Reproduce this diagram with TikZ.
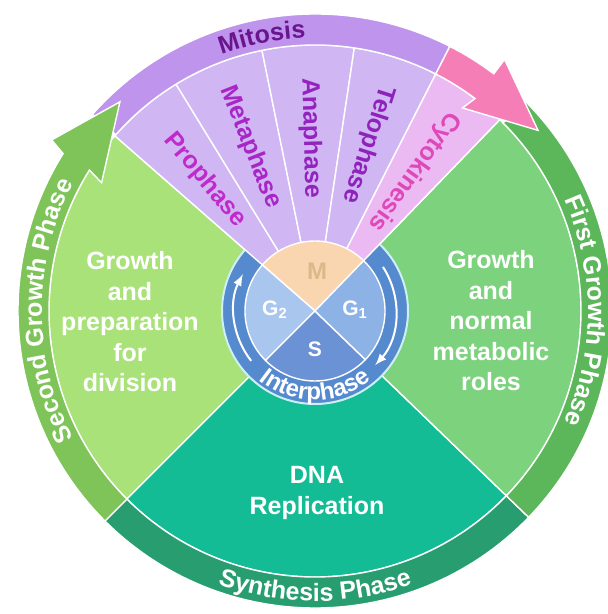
\documentclass[tikz,border=0pt]{standalone}
\usepackage{fontspec}
\setmainfont{Liberation Sans}
\usepackage{tikz}
\usetikzlibrary{decorations.text}
\usepackage{xcolor}

\definecolor{leftgreen}{HTML}{A8E278}
\definecolor{rightgreen}{HTML}{7CD27D}
\definecolor{dnateal}{HTML}{14BC96}
\definecolor{secondring}{HTML}{7EC458}
\definecolor{firstring}{HTML}{5CB65A}
\definecolor{synthring}{HTML}{289E70}
\definecolor{mitband}{HTML}{BE94EC}
\definecolor{pinkarrow}{HTML}{F67EB6}
\definecolor{fanlav}{HTML}{D0B6F2}
\definecolor{cytopink}{HTML}{ECBAF2}
\definecolor{mpeach}{HTML}{FAD6B0}
\definecolor{mtext}{HTML}{DDB88A}
\definecolor{gtwoblue}{HTML}{A8C6EE}
\definecolor{goneblue}{HTML}{8CB2E6}
\definecolor{sblue}{HTML}{6C92D6}
\definecolor{ringblue}{HTML}{568ACE}
\definecolor{ringline}{HTML}{CDEFF5}
\definecolor{procol}{HTML}{C02ACB}
\definecolor{metacol}{HTML}{A826C8}
\definecolor{anacol}{HTML}{9422BE}
\definecolor{telocol}{HTML}{8E22BA}
\definecolor{cytocol}{HTML}{DE48B8}
\definecolor{mitcol}{HTML}{6A148E}

\newcommand{\bandfont}{\fontsize{12.5}{15}\selectfont\bfseries}
\newcommand{\interfont}{\fontsize{12}{14}\selectfont\bfseries}

\begin{document}
\begin{tikzpicture}[x=0.5pt,y=0.5pt]
        %styles
        \tikzstyle{wedge}=[draw=white, line width=0.7pt]
        \tikzstyle{biglabel}=[align=center, text=white, font=\fontsize{12.5}{15.25}\selectfont\bfseries]
        \tikzstyle{stagelabel}=[font=\fontsize{12.5}{15}\selectfont\bfseries]
        \tikzstyle{phaselabel}=[text=white, font=\fontsize{10.5}{12}\selectfont\bfseries]
        \tikzstyle{ringarrow}=[->,>=latex, white, line width=1pt]

        %frame
        \fill[white] (-315,-303) rectangle (293,311);
        \useasboundingbox (-315,-303) rectangle (293,311);

        %big sectors
        \fill[leftgreen, wedge] (0,0) -- (138.8:266) arc[start angle=138.8, end angle=225, radius=266] -- cycle;
        \fill[dnateal, wedge] (0,0) -- (225:266) arc[start angle=225, end angle=316, radius=266] -- cycle;
        \fill[rightgreen, wedge] (0,0) -- (-44:266) arc[start angle=-44, end angle=46, radius=266] -- cycle;

        %interphase ring
        \fill[ringblue, draw=ringline, line width=1pt] (0,0) circle[radius=93];

        %mitosis fan
        \fill[fanlav, wedge] (0,0) -- (121.5:266) arc[start angle=121.5, end angle=138.8, radius=266] -- cycle;
        \fill[fanlav, wedge] (0,0) -- (101.5:266) arc[start angle=101.5, end angle=121.5, radius=266] -- cycle;
        \fill[fanlav, wedge] (0,0) -- (81.5:266) arc[start angle=81.5, end angle=101.5, radius=266] -- cycle;
        \fill[fanlav, wedge] (0,0) -- (63:266) arc[start angle=63, end angle=81.5, radius=266] -- cycle;
        \fill[cytopink, wedge] (0,0) -- (46:266) arc[start angle=46, end angle=63, radius=266] -- cycle;

        %outer rings
        \fill[synthring, wedge] (225:266) arc[start angle=225, end angle=316, radius=266] -- (316:297) arc[start angle=316, end angle=225, radius=297] -- cycle;
        \fill[firstring, wedge] (-44:266) arc[start angle=-44, end angle=45, radius=266] -- (45:297) arc[start angle=45, end angle=-44, radius=297] -- cycle;
        \fill[mitband, wedge] (63:266) arc[start angle=63, end angle=138.5, radius=266] -- (138.5:297) arc[start angle=138.5, end angle=63, radius=297] -- cycle;
        \fill[pinkarrow, wedge] (53:266) arc[start angle=53, end angle=63, radius=266] -- (63:297) arc[start angle=63, end angle=53, radius=297] -- (53:315) -- (39:287) -- (54:251) -- cycle;
        \fill[secondring, wedge] (225:266) arc[start angle=225, end angle=148, radius=266] -- (149:249) -- (133:286) -- (147:314) -- (148:297) arc[start angle=148, end angle=225, radius=297] -- cycle;

        %inner quadrants
        \fill[mpeach, wedge] (0,0) -- (46:70) arc[start angle=46, end angle=138.8, radius=70] -- cycle;
        \fill[gtwoblue, wedge] (0,0) -- (138.8:70) arc[start angle=138.8, end angle=225, radius=70] -- cycle;
        \fill[sblue, wedge] (0,0) -- (225:70) arc[start angle=225, end angle=316, radius=70] -- cycle;
        \fill[goneblue, wedge] (0,0) -- (-44:70) arc[start angle=-44, end angle=46, radius=70] -- cycle;

        %ring texts
        \path[decorate, decoration={text along path, text={|\bandfont|Mitosis}, text align=center, text color=mitcol}] (131:273) arc[start angle=131, end angle=71, radius=273];
        \path[decorate, decoration={text along path, text={|\bandfont|First Growth Phase}, text align=center, text color=white}] (40:273) arc[start angle=40, end angle=-40, radius=273];
        \path[decorate, decoration={text along path, text={|\bandfont|Second Growth Phase}, text align=center, text color=white}] (220:273) arc[start angle=220, end angle=140, radius=273];
        \path[decorate, decoration={text along path, text={|\bandfont|Synthesis Phase}, text align=center, text color=white}] (-125:290) arc[start angle=-125, end angle=-55, radius=290];
        \path[decorate, decoration={text along path, text={|\interfont|Interphase}, text align=center, text color=white}] (-140:89) arc[start angle=-140, end angle=-40, radius=89];

        %nodes
        \node[biglabel] (prep) at (-185,-11) {Growth\\and\\preparation\\for\\division};
        \node[biglabel] (metab) at (176,-10) {Growth\\and\\normal\\metabolic\\roles};
        \node[biglabel] (dna) at (2,-182) {DNA\\Replication};

        \node[stagelabel, text=procol, rotate=-49.9] (pro) at (130.1:171) {Prophase};
        \node[stagelabel, text=metacol, rotate=-68.5] (meta) at (111.5:176) {Metaphase};
        \node[stagelabel, text=anacol, rotate=-88.5] (ana) at (91.5:173) {Anaphase};
        \node[stagelabel, text=telocol, rotate=-107.7] (telo) at (72.3:175) {Telophase};
        \node[stagelabel, text=cytocol, rotate=-125.5] (cyto) at (54.5:171) {Cytokinesis};

        \node[phaselabel, text=mtext, font=\fontsize{12}{14}\selectfont\bfseries] (m) at (2,40) {M};
        \node[phaselabel] (gtwo) at (-40,1) {G\textsubscript{2}};
        \node[phaselabel] (gone) at (40,1) {G\textsubscript{1}};
        \node[phaselabel] (s) at (0,-38) {S};

        %arrows
        \draw[ringarrow] (218:81) arc[start angle=218, end angle=153, radius=81];
        \draw[ringarrow] (33:81) arc[start angle=33, end angle=-42, radius=81];

\end{tikzpicture}
\end{document}
